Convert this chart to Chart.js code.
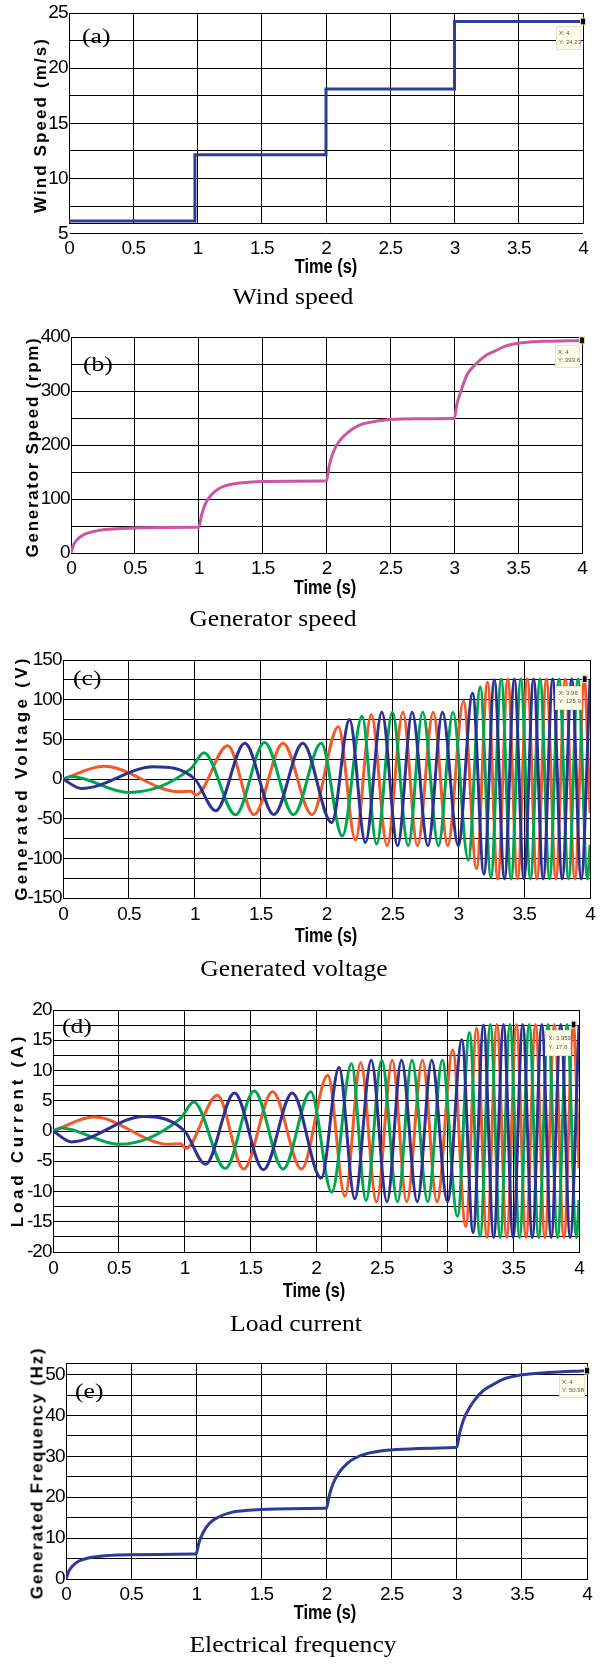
<!DOCTYPE html>
<html><head><meta charset="utf-8">
<script src="https://cdn.jsdelivr.net/npm/chart.js@4.4.0/dist/chart.umd.min.js"></script>
<style>
html,body{margin:0;padding:0;background:#fff;}
body{width:605px;height:1665px;position:relative;overflow:hidden;}
canvas.p{position:absolute;left:0;}
.t{position:absolute;white-space:nowrap;color:#000;z-index:2;}
.cap{font-family:'Liberation Serif','Times New Roman',serif;font-size:22.5px;line-height:22.5px;transform:translate(-50%,-50%) scaleX(1.14);}
.xt{font-family:'Liberation Sans',Arial,sans-serif;font-weight:bold;font-size:20px;line-height:20px;transform:translate(-50%,-50%) scaleX(0.82);}
.yt{font-family:'Liberation Sans',Arial,sans-serif;font-weight:bold;font-size:17px;line-height:17px;transform:translate(-50%,-50%) rotate(-90deg);}
.lt{font-family:'Liberation Serif','Times New Roman',serif;font-size:20px;line-height:20px;transform-origin:left center;transform:translateY(-50%) scaleX(1.28);}
</style>
</head><body>
<script>
// ---------- data ----------
const xTicks = [0,0.5,1,1.5,2,2.5,3,3.5,4];

// (a) wind speed (step)
const tWind = [0, 0.98, 2.0, 3.0, 4.0];
const vWind = [6.15, 12.15, 18.1, 24.23, 24.23];
const windTicks = [5,7.5,10,12.5,15,17.5,20,22.5,25];
const windLabels = [5,10,15,20,25];

// (b) generator speed
const tGen = [0,0.02,0.05,0.1,0.2,0.3,0.5,0.98,1.0,1.02,1.05,1.1,1.15,1.2,1.3,1.5,1.99,2.0,2.02,2.05,2.1,2.17,2.25,2.32,2.5,2.75,2.99,3.0,3.02,3.06,3.1,3.17,3.25,3.3,3.4,3.5,3.7,4.0];
const vGen = [0,15,25,34,41,44,46.5,47.5,47.6,68,90,108,118,124,129,132.5,133.5,133.6,160,185,207,224,236,241,247,248.5,249,249.2,275,305,330,350,366,372,383,388.5,392,393.6];
const genTicks = [0,50,100,150,200,250,300,350,400];
const genLabels = [0,100,200,300,400];

// (c) generated voltage, (d) load current : extrema of each phase
const tB = [0,0.14,0.69,1.0,1.16,1.38,1.60,1.82,2.04,2.175,2.295,2.42,2.54,2.65,2.77,2.88,3.0,3.109,3.195,3.274,3.351,3.426,3.499,3.572,3.645,3.717,3.789,3.861,3.933,4.0];
const vB = [0,-12,15.5,0,-40,45,-45,45,-55,75,-80,84,-84,84,-84,84,-84,108,-120,125,-126,126,-126,126,-126,126,-126,126,-126,125];
const iB = [0,-1.8,2.4,0,-5.5,6.3,-6.4,6.3,-7.8,10.5,-11.2,11.7,-11.7,11.7,-11.7,11.7,-11.7,15.1,-16.8,17.5,-17.6,17.6,-17.6,17.6,-17.6,17.6,-17.6,17.6,-17.6,17.5];

const tO = [0,0.31,0.88,0.97,1.01,1.25,1.45,1.67,1.89,2.09,2.22,2.34,2.46,2.58,2.69,2.81,2.92,3.04,3.139,3.222,3.30,3.376,3.45,3.524,3.597,3.669,3.741,3.813,3.885,3.957,4.0];
const vO = [0,16,-16,-15.5,-20,42,-45,45,-45,66,-77,81,-84,84,-84,84,-84,98,-113,122,-126,126,-126,126,-126,126,-126,126,-126,126,-43];
const iO = [0,2.3,-2.2,-2.1,-2.9,5.9,-6.3,6.5,-6.3,9.2,-10.8,11.3,-11.7,11.7,-11.7,11.7,-11.7,13.4,-15.8,17.0,-17.6,17.6,-17.6,17.6,-17.6,17.6,-17.6,17.6,-17.6,17.6,-6.2];

const tG = [0,0.06,0.5,0.97,1.07,1.31,1.53,1.75,1.96,2.12,2.27,2.38,2.50,2.62,2.73,2.85,2.96,3.076,3.167,3.248,3.326,3.401,3.475,3.548,3.621,3.693,3.765,3.837,3.909,3.981,4.0];
const vG = [0,3,-17,13,33,-45,46,-45,45,-72,79,-82,84,-84,84,-84,84,-102,116,-124,126,-126,126,-126,126,-126,126,-126,126,-126,-83];
const iG = [0,0.5,-2.2,2.1,4.8,-6.2,6.6,-6.3,6.5,-10.1,11.1,-11.5,11.7,-11.7,11.7,-11.7,11.7,-14.1,16.3,-17.4,17.6,-17.6,17.6,-17.6,17.6,-17.6,17.6,-17.6,17.6,-17.6,-11.4];

const voltTicks = [-150,-125,-100,-75,-50,-25,0,25,50,75,100,125,150];
const voltLabels = [-150,-100,-50,0,50,100,150];
const curTicks = [-20,-17.5,-15,-12.5,-10,-7.5,-5,-2.5,0,2.5,5,7.5,10,12.5,15,17.5,20];
const curLabels = [-20,-15,-10,-5,0,5,10,15,20];

// (e) electrical frequency
const tFreq = [0,0.02,0.05,0.1,0.18,0.3,0.5,0.98,1.0,1.02,1.05,1.1,1.18,1.27,1.4,1.6,1.99,2.0,2.02,2.05,2.1,2.16,2.22,2.3,2.46,2.7,2.99,3.0,3.02,3.05,3.1,3.14,3.2,3.28,3.35,3.49,3.7,4.0];
const vFreq = [0,1.8,3.2,4.4,5.2,5.7,5.95,6.1,6.2,8.8,11.2,13.6,15.3,16.3,16.8,17.1,17.3,17.35,20.3,23.3,26.2,28.3,29.6,30.6,31.5,31.9,32.2,32.25,35.4,38.8,42,43.9,46,47.6,48.8,49.9,50.5,50.98];
const freqTicks = [0,5,10,15,20,25,30,35,40,45,50];
const freqLabels = [0,10,20,30,40,50];

// data tips [x, y, label x, label y]
const tipA = [4, 24.23, 'X: 4', 'Y: 24.23'];
const tipB = [4, 393.6, 'X: 4', 'Y: 393.6'];
const tipC = [3.96, 125.9, 'X: 3.96', 'Y: 125.9'];
const tipD = [3.959, 17.6, 'X: 3.959', 'Y: 17.6'];
const tipE = [4, 50.98, 'X: 4', 'Y: 50.98'];

// ---------- styles ----------
const C_BLUE = '#2e3192', C_ORANGE = '#f15a29', C_GREEN = '#00a651';
const C_WIND = '#2f3d96', C_GEN = '#cc55a6', C_FREQ = '#2c3a98';
const TICKFONT = {family:"'Liberation Sans',Arial,sans-serif", size:19};

function pts(ts, vs){ return ts.map((t,i)=>({x:t, y:vs[i]})); }

const framePlugin = {
  id:'frame',
  beforeDraw(c){ c.ctx.letterSpacing = '-1px'; },
  beforeDatasetsDraw(c){
    const a = c.chartArea, ctx = c.ctx;
    ctx.letterSpacing = '0px';
    ctx.save(); ctx.strokeStyle='#000'; ctx.lineWidth=1;
    const l=Math.floor(a.left)+0.5, t=Math.floor(a.top)+0.5, r=Math.floor(a.right)+0.5, b=Math.floor(a.bottom)+0.5;
    ctx.strokeRect(l,t,r-l,b-t); ctx.restore();
  },
  afterDatasetsDraw(c, args, opts){
    const tip = opts.tip; if(!tip) return;
    const ctx=c.ctx, px=c.scales.x.getPixelForValue(tip[0]), py=c.scales.y.getPixelForValue(tip[1]);
    const bx = px + opts.dx, by = py + opts.dy;
    ctx.save();
    ctx.fillStyle='#fffbe6'; ctx.fillRect(bx,by,opts.w,opts.h);
    ctx.strokeStyle='#e8e2c8'; ctx.lineWidth=1; ctx.strokeRect(Math.floor(bx)+0.5,Math.floor(by)+0.5,opts.w,opts.h);
    ctx.fillStyle='#555'; ctx.font="6px 'Liberation Sans',Arial,sans-serif"; ctx.textBaseline='middle'; ctx.textAlign='left';
    ctx.fillText(tip[2], bx+3, by+opts.h*0.3);
    ctx.fillText(tip[3], bx+3, by+opts.h*0.68);
    ctx.fillStyle='#000'; ctx.fillRect(px-2, py-3, 4, 6);
    ctx.strokeStyle='#ddd8b0'; ctx.strokeRect(px-2.5, py-3.5, 5, 7);
    ctx.restore();
  }
};

function makePanel(g, datasets, yMin, yMax, yTickArr, yLabelArr, tip){
  const cv = document.createElement('canvas');
  cv.className='p'; cv.width=605; cv.height=g.H; cv.style.top=g.T0+'px';
  cv.style.width='605px'; cv.style.height=g.H+'px';
  document.body.appendChild(cv);
  new Chart(cv.getContext('2d'), {
    type:'line',
    data:{datasets},
    options:{
      responsive:false, animation:false, devicePixelRatio:1,
      layout:{padding:{left:0, top:g.top-g.T0, right:605-g.R, bottom:0}},
      plugins:{legend:{display:false}, tooltip:{enabled:false}, frame:{tip, dx:g.dx, dy:g.dy, w:g.w, h:g.h}},
      elements:{point:{radius:0}, line:{borderWidth:3, fill:false}},
      scales:{
        x:{type:'linear', min:0, max:4,
           afterFit:s=>{s.height = g.H-(g.bottom-g.T0);},
           afterBuildTicks:s=>{s.ticks = xTicks.map(v=>({value:v}));},
           grid:{color:'#000', lineWidth:1, drawTicks:false},
           border:{color:'#000', width:1},
           ticks:{color:'#000', font:TICKFONT, padding:g.xpad, maxRotation:0, autoSkip:false, callback:v=>String(v)}},
        y:{type:'linear', min:yMin, max:yMax,
           afterFit:s=>{s.width = g.L;},
           afterBuildTicks:s=>{s.ticks = yTickArr.map(v=>({value:v}));},
           grid:{color:'#000', lineWidth:1, drawTicks:false},
           border:{color:'#000', width:1},
           ticks:{color:'#000', font:TICKFONT, padding:1.5, autoSkip:false, callback:v=>yLabelArr.includes(v)?String(v):''}}
      }
    },
    plugins:[framePlugin]
  });
}

// geometry (layout only)
const GA = {T0:0,   H:262, L:69, R:583, top:13,  bottom:223,  xpad:14, dx:-27, dy:5, w:24, h:23};
const GB = {T0:320, H:262, L:71, R:582, top:337, bottom:553,  xpad:4,  dx:-27, dy:5, w:24, h:22};
const GC = {T0:645, H:282, L:63, R:590, top:660, bottom:898,  xpad:5,  dx:-29, dy:7, w:26, h:23};
const GD = {T0:995, H:287, L:53, R:579, top:1010,bottom:1252, xpad:5,  dx:-28, dy:6, w:25, h:25};
const GE = {T0:1345,H:262, L:66, R:587, top:1363,bottom:1579, xpad:4,  dx:-28, dy:5, w:25, h:22};

makePanel(GA, [{data:pts(tWind,vWind), borderColor:C_WIND, stepped:true}], 5.96, 25, windTicks, windLabels, tipA);
makePanel(GB, [{data:pts(tGen,vGen), borderColor:C_GEN, cubicInterpolationMode:'monotone'}], 0, 400, genTicks, genLabels, tipB);
makePanel(GC, [
  {data:pts(tB,vB), borderColor:C_BLUE, cubicInterpolationMode:'monotone'},
  {data:pts(tG,vG), borderColor:C_GREEN, cubicInterpolationMode:'monotone'},
  {data:pts(tO,vO), borderColor:C_ORANGE, cubicInterpolationMode:'monotone'}
], -150, 150, voltTicks, voltLabels, tipC);
makePanel(GD, [
  {data:pts(tB,iB), borderColor:C_BLUE, cubicInterpolationMode:'monotone'},
  {data:pts(tG,iG), borderColor:C_GREEN, cubicInterpolationMode:'monotone'},
  {data:pts(tO,iO), borderColor:C_ORANGE, cubicInterpolationMode:'monotone'}
], -20, 20, curTicks, curLabels, tipD);
makePanel(GE, [{data:pts(tFreq,vFreq), borderColor:C_FREQ, cubicInterpolationMode:'monotone'}], 0, 52.85, freqTicks, freqLabels, tipE);

// ---------- text overlays ----------
function txt(cls, s, x, y, extra){
  const d=document.createElement('div'); d.className='t '+cls; d.textContent=s;
  d.style.left=x+'px'; d.style.top=y+'px'; if(extra) Object.assign(d.style, extra);
  document.body.appendChild(d);
}
txt('lt','(a)',82,35.5); txt('lt','(b)',83,364); txt('lt','(c)',72.5,677.5); txt('lt','(d)',61.7,1026); txt('lt','(e)',75,1391);
txt('xt','Time (s)',326,266); txt('xt','Time (s)',325,586.5); txt('xt','Time (s)',326,934.5); txt('xt','Time (s)',314,1289.5); txt('xt','Time (s)',325,1611.5);
txt('yt','Wind Speed (m/s)',40.2,125,{letterSpacing:'2.1px'});
txt('yt','Generator Speed (rpm)',32,447,{letterSpacing:'1.7px'});
txt('yt','Generated Voltage (V)',21,778,{letterSpacing:'3.3px'});
txt('yt','Load Current (A)',16.5,1130,{letterSpacing:'3.7px'});
txt('yt','Generated Frequency (Hz)',36.5,1473,{letterSpacing:'1.7px'});
txt('cap','Wind speed',293,297.4); txt('cap','Generator speed',272.5,619); txt('cap','Generated voltage',293.5,969);
txt('cap','Load current',296,1324); txt('cap','Electrical frequency',293,1645.4);
</script>
</body></html>
